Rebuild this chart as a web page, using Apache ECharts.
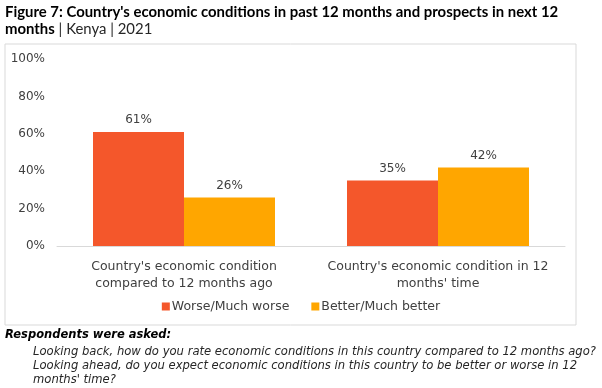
<!DOCTYPE html>
<html><head><meta charset="utf-8">
<script src="https://cdn.jsdelivr.net/npm/echarts@6/dist/echarts.min.js"></script>
<style>html,body{margin:0;padding:0;background:#fff}#c{width:602px;height:388px}</style>
</head><body><div id="c"></div>
<script>
const categories = ["Country's economic condition\ncompared to 12 months ago", "Country's economic condition in 12\nmonths' time"];
const seriesNames = ["Worse/Much worse", "Better/Much better"];
const worse = [61, 35];
const better = [26, 42];
const yTicks = [0, 20, 40, 60, 80, 100];

const FONT = "DejaVu Sans";
const chart = echarts.init(document.getElementById('c'), null, {renderer: 'canvas'});
chart.setOption({
  backgroundColor: '#fff',
  animation: false,
  textStyle: {fontFamily: FONT},
  title: {
    left: 5, top: 0, padding: [4, 0, 0, 0],
    text: "{b|Figure 7: Country's economic conditions in past 12 months and prospects in next 12}\n{b|months}{n| | Kenya | 2021}",
    textStyle: {
      rich: {
        b: {fontFamily: 'Lato', fontWeight: 'bold', fontSize: 14.9, color: '#000', lineHeight: 17},
        n: {fontFamily: 'Lato', fontWeight: 'normal', fontSize: 14.9, color: '#262626', lineHeight: 17}
      }
    }
  },
  graphic: [
    {type: 'rect', shape: {x: 5, y: 44, width: 571, height: 281}, style: {fill: 'none', stroke: '#d9d9d9', lineWidth: 1}, z: -1},
    {type: 'text', left: 5, top: 329, style: {text: 'Respondents were asked:', font: 'italic bold 11.5px "DejaVu Sans"', fill: '#000'}},
    {type: 'text', left: 33, top: 345, style: {text: "Looking back, how do you rate economic conditions in this country compared to 12 months ago?\nLooking ahead, do you expect economic conditions in this country to be better or worse in 12\nmonths' time?", font: 'italic 11.6px "DejaVu Sans"', fill: '#262626', lineHeight: 14}}
  ],
  legend: {
    bottom: 70, left: 'center',
    itemWidth: 8, itemHeight: 8, itemGap: 22,
    icon: 'rect',
    textStyle: {fontFamily: FONT, fontSize: 12.5, color: '#404040', padding: [0, 0, 0, -3]},
    data: seriesNames
  },
  grid: {left: 57, right: 37, top: 59, bottom: 142},
  xAxis: {
    type: 'category', data: categories,
    axisLine: {lineStyle: {color: '#d9d9d9'}},
    axisTick: {show: false},
    axisLabel: {fontFamily: FONT, fontSize: 12.5, color: '#404040', lineHeight: 17, margin: 12, interval: 0}
  },
  yAxis: {
    type: 'value', min: 0, max: 100, interval: 20,
    axisLine: {show: false}, axisTick: {show: false},
    splitLine: {show: false},
    axisLabel: {fontFamily: FONT, fontSize: 12, color: '#404040', margin: 12, formatter: v => yTicks.includes(v) ? v + '%' : ''}
  },
  series: [
    {name: seriesNames[0], type: 'bar', data: worse, barWidth: 91, barGap: '0%', itemStyle: {color: '#F4572B'},
     label: {show: true, position: 'top', distance: 6, formatter: '{c}%', fontFamily: FONT, fontSize: 12, color: '#404040'}},
    {name: seriesNames[1], type: 'bar', data: better, barWidth: 91, barGap: '0%', itemStyle: {color: '#FFA600'},
     label: {show: true, position: 'top', distance: 6, formatter: '{c}%', fontFamily: FONT, fontSize: 12, color: '#404040'}}
  ]
});
</script></body></html>
